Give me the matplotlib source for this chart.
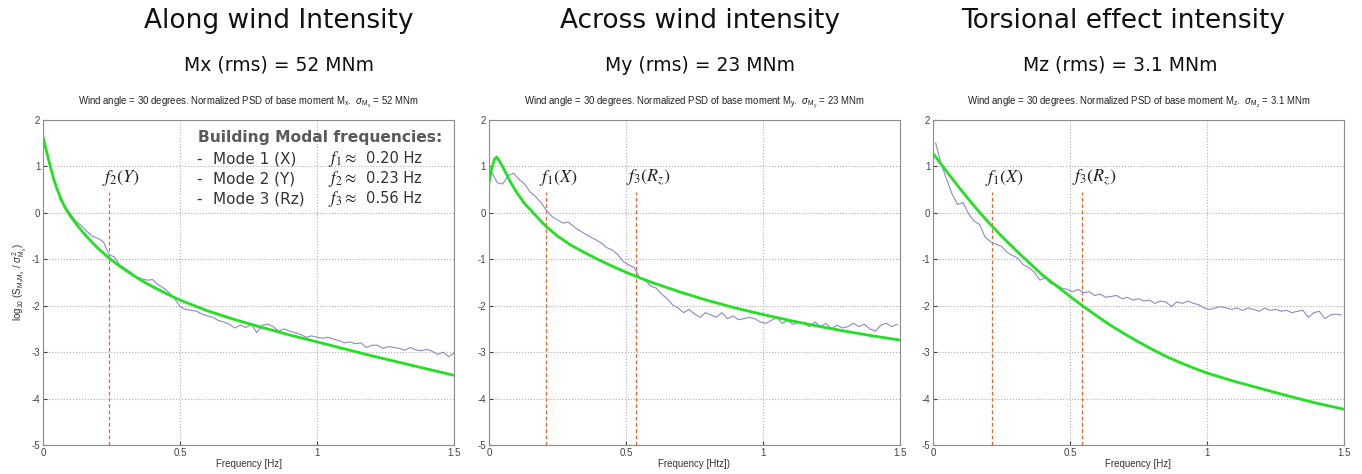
import numpy as np
import matplotlib
matplotlib.use("Agg")
import matplotlib.pyplot as plt

plt.rcParams['axes.unicode_minus'] = False
plt.rcParams['mathtext.fontset'] = 'custom'
plt.rcParams['mathtext.rm'] = 'Liberation Sans'
plt.rcParams['mathtext.it'] = 'Liberation Sans:italic'
plt.rcParams['mathtext.bf'] = 'Liberation Sans:bold'

# ---- data (log10 of normalized PSD) ----
# measured spectra (blue) -- sampled every 0.02 Hz
freq_mx = np.arange(0.06, 1.5001, 0.02)
psd_mx = [0.30, 0.14, -0.02, -0.18, -0.28, -0.40, -0.50, -0.55, -0.62, -0.90,
          -0.95, -1.12, -1.20, -1.28, -1.38, -1.42, -1.45, -1.44, -1.55, -1.62,
          -1.72, -1.85, -2.02, -2.08, -2.10, -2.12, -2.18, -2.22, -2.25, -2.32,
          -2.35, -2.40, -2.48, -2.42, -2.47, -2.40, -2.58, -2.42, -2.40, -2.45,
          -2.55, -2.50, -2.55, -2.58, -2.62, -2.68, -2.65, -2.68, -2.70, -2.68,
          -2.72, -2.75, -2.80, -2.78, -2.82, -2.80, -2.90, -2.85, -2.85, -2.92,
          -2.88, -2.90, -2.92, -2.96, -2.90, -2.95, -2.97, -2.94, -2.98, -3.05,
          -3.00, -3.10, -3.02]

freq_my = np.arange(0.01, 1.5, 0.02)
psd_my = [0.88, 0.65, 0.62, 0.80, 0.85, 0.72, 0.62, 0.45, 0.35, 0.22,
          0.05, -0.08, -0.15, -0.22, -0.20, -0.30, -0.38, -0.45, -0.52, -0.58,
          -0.65, -0.75, -0.80, -0.90, -1.05, -1.12, -1.18, -1.40, -1.45, -1.58,
          -1.62, -1.75, -1.85, -1.98, -2.05, -2.15, -2.08, -2.18, -2.25, -2.15,
          -2.20, -2.25, -2.15, -2.28, -2.22, -2.30, -2.28, -2.25, -2.28, -2.35,
          -2.38, -2.32, -2.25, -2.38, -2.32, -2.40, -2.35, -2.38, -2.45, -2.35,
          -2.45, -2.38, -2.50, -2.42, -2.48, -2.45, -2.38, -2.45, -2.40, -2.50,
          -2.55, -2.42, -2.38, -2.45, -2.40]

freq_mz = np.arange(0.01, 1.5, 0.02)
psd_mz = [1.50, 1.05, 0.72, 0.40, 0.18, 0.22, -0.02, -0.18, -0.25, -0.52,
          -0.62, -0.68, -0.72, -0.85, -0.92, -0.98, -1.12, -1.18, -1.28, -1.45,
          -1.40, -1.52, -1.55, -1.62, -1.65, -1.70, -1.65, -1.72, -1.70, -1.78,
          -1.75, -1.82, -1.80, -1.78, -1.85, -1.82, -1.88, -1.85, -1.90, -1.88,
          -1.95, -1.90, -1.92, -2.02, -1.92, -1.95, -1.90, -1.95, -1.98, -2.05,
          -2.08, -2.05, -2.02, -2.05, -2.08, -2.05, -2.10, -2.05, -2.08, -2.12,
          -2.05, -2.10, -2.08, -2.12, -2.10, -2.15, -2.12, -2.10, -2.25, -2.15,
          -2.12, -2.28, -2.20, -2.18, -2.20]

# fitted spectra (green)
fit_f_mx = [0, 0.01, 0.02, 0.03, 0.04, 0.05, 0.06, 0.07, 0.08, 0.09, 0.1, 0.12, 0.14,
            0.17, 0.2, 0.24, 0.28, 0.32, 0.36, 0.4, 0.45, 0.5, 0.6, 0.7, 0.8, 0.9,
            1.0, 1.1, 1.2, 1.3, 1.4, 1.5]
fit_mx = [1.63, 1.39, 1.15, 0.92, 0.71, 0.53, 0.38, 0.24, 0.12, 0.02, -0.07, -0.23, -0.38,
          -0.58, -0.76, -0.97, -1.15, -1.31, -1.46, -1.59, -1.74, -1.88, -2.11, -2.30, -2.47, -2.63,
          -2.78, -2.93, -3.08, -3.22, -3.36, -3.50]

fit_f_my = [0, 0.01, 0.02, 0.028, 0.04, 0.06, 0.08, 0.1, 0.13, 0.16, 0.185, 0.21, 0.25,
            0.3, 0.35, 0.4, 0.45, 0.5, 0.55, 0.6, 0.65, 0.7, 0.8, 0.9, 1.0, 1.1, 1.2,
            1.3, 1.4, 1.5]
fit_my = [0.65, 0.95, 1.15, 1.20, 1.10, 0.88, 0.65, 0.45, 0.20, 0.01, -0.15, -0.30, -0.50,
          -0.70, -0.86, -1.01, -1.15, -1.28, -1.40, -1.51, -1.61, -1.71, -1.89, -2.05, -2.19,
          -2.32, -2.44, -2.55, -2.65, -2.74]

fit_f_mz = [0, 0.05, 0.1, 0.15, 0.2, 0.25, 0.3, 0.35, 0.4, 0.45, 0.5, 0.55, 0.6, 0.65,
            0.7, 0.75, 0.8, 0.85, 0.9, 0.95, 1.0, 1.1, 1.2, 1.3, 1.4, 1.5]
fit_mz = [1.28, 0.89, 0.51, 0.15, -0.19, -0.50, -0.79, -1.07, -1.34, -1.57, -1.80, -2.02,
          -2.23, -2.43, -2.61, -2.78, -2.94, -3.09, -3.22, -3.34, -3.45, -3.63, -3.79, -3.95,
          -4.10, -4.23]

# modal frequency markers: (freq, label) per panel
modes_mx = [(0.24, r'$f_2(Y)$')]
modes_my = [(0.207, r'$f_1(X)$'), (0.536, r'$f_3(R_z)$')]
modes_mz = [(0.217, r'$f_1(X)$'), (0.544, r'$f_3(R_z)$')]

titles = ['Along wind Intensity', 'Across wind intensity', 'Torsional effect intensity']
rms_lines = ['Mx (rms) = 52 MNm', 'My (rms) = 23 MNm', 'Mz (rms) = 3.1 MNm']
small_titles = [
    r'Wind angle = 30 degrees. Normalized PSD of base moment M$_{\mathrm{x}}$.  $\sigma_{\mathrm{M}_\mathrm{x}}$ = 52 MNm',
    r'Wind angle = 30 degrees. Normalized PSD of base moment M$_{\mathrm{y}}$.  $\sigma_{\mathrm{M}_\mathrm{y}}$ = 23 MNm',
    r'Wind angle = 30 degrees. Normalized PSD of base moment M$_{\mathrm{z}}$.  $\sigma_{\mathrm{M}_\mathrm{z}}$ = 3.1 MNm',
]
xlabels = ['Frequency [Hz]', 'Frequency [Htz])', 'Frequency [Hz]']

mode_rows = [('Mode 1 (X)', r'$f_1 \approx$', '0.20 Hz'),
             ('Mode 2 (Y)', r'$f_2 \approx$', '0.23 Hz'),
             ('Mode 3 (Rz)', r'$f_3 \approx$', '0.56 Hz')]

BLUE = '#8a8ac8'
GREEN = '#22e022'
ORANGE = '#f0602a'
SMALL = 'Liberation Sans'

fig = plt.figure(figsize=(13.62, 4.74), dpi=100)
lefts = [0.0316, 0.359, 0.685]
w, h, b = 0.3018, 0.6857, 0.0612
title_dx = [0.022, 0.004, -0.0115]
rms_dx = [0.022, 0.0044, -0.0134]

panels = [
    (freq_mx, psd_mx, fit_f_mx, fit_mx, modes_mx),
    (freq_my, psd_my, fit_f_my, fit_my, modes_my),
    (freq_mz, psd_mz, fit_f_mz, fit_mz, modes_mz),
]

for i, (fq, psd, ff, fit, modes) in enumerate(panels):
    ax = fig.add_axes([lefts[i], b, w, h])
    ax.plot(fq, psd, color=BLUE, lw=0.8, zorder=2)
    ax.plot(ff, fit, color=GREEN, lw=2.0, zorder=3)
    for fm, lab in modes:
        ax.plot([fm, fm], [-5, 0.45], color=ORANGE, lw=0.9, ls=(0, (3, 2)), zorder=1)
        ax.text(fm + 0.045, 0.75, lab, fontsize=13, ha='center', va='center',
                color='#222222', math_fontfamily='stix')

    ax.set_xlim(0, 1.5)
    ax.set_ylim(-5, 2)
    ax.set_xticks([0, 0.5, 1, 1.5])
    ax.set_xticklabels(['0', '0.5', '1', '1.5'])
    ax.set_yticks(range(-5, 3))
    ax.tick_params(direction='in', length=3, labelsize=7, colors='#444444', pad=2)
    for lab in ax.get_xticklabels() + ax.get_yticklabels():
        lab.set_family(SMALL)
    ax.grid(True, ls=':', color='#b0b0b0', lw=0.8)
    for sp in ax.spines.values():
        sp.set_color('#8c8c8c')
        sp.set_linewidth(0.8)
    ax.set_xlabel(xlabels[i], fontsize=7, color='#333333', labelpad=1, family=SMALL)
    ax.set_title(small_titles[i], fontsize=6.9, color='#222222', pad=11, family=SMALL)

    cx = lefts[i] + w / 2
    fig.text(cx + title_dx[i], 0.955, titles[i], fontsize=19,
             ha='center', va='center', color='#111111')
    fig.text(cx + rms_dx[i], 0.862, rms_lines[i], fontsize=13.5,
             ha='center', va='center', color='#111111')

    if i == 0:
        ax.set_ylabel(r'log$_{10}$ (S$_{\mathrm{M_x M_x}}$ / $\sigma^2_{\mathrm{M_x}}$)', fontsize=7,
                      color='#333333', labelpad=2, family=SMALL)
        ax.text(0.565, 1.62, 'Building Modal frequencies:', fontsize=11.2, fontweight='bold',
                color='#5a5a5a', va='center', ha='left')
        for k, (name, sym, val) in enumerate(mode_rows):
            yv = 1.16 - k * 0.43
            ax.text(0.56, yv, '-', fontsize=11, color='#333333', va='center')
            ax.text(0.62, yv, name, fontsize=11, color='#333333', va='center')
            ax.text(1.04, yv, sym, fontsize=12, color='#222222', va='center',
                    math_fontfamily='stix')
            ax.text(1.18, yv, val, fontsize=10.5, color='#333333', va='center')

fig.savefig('out.png', dpi=100)
